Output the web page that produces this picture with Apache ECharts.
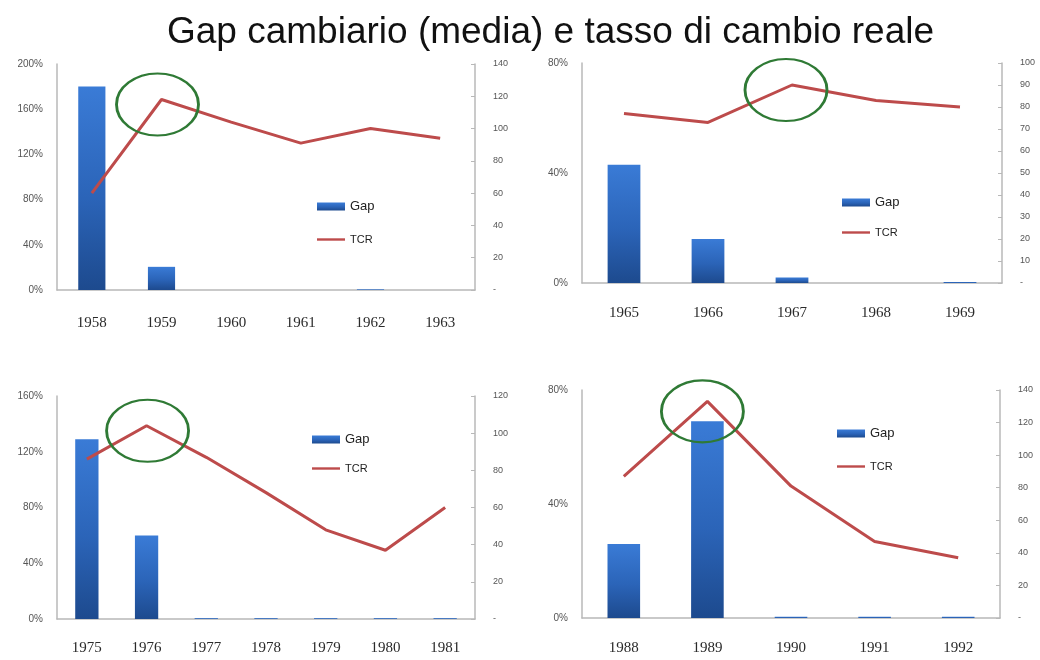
<!DOCTYPE html>
<html>
<head>
<meta charset="utf-8">
<script src="https://cdn.jsdelivr.net/npm/echarts@6/dist/echarts.min.js"></script>
<style>
  html, body { margin: 0; padding: 0; background: #fff; }
  #chart { width: 1040px; height: 660px; }
</style>
</head>
<body>
<div id="chart"></div>
<script>
// Four episodes: exchange-rate gap (bars, %) and real exchange rate index (line)
const years1 = ['1958', '1959', '1960', '1961', '1962', '1963'];
const gap1 = [180, 20.5, 0, 0, 0.6, 0];
const tcr1 = [60, 118, 104, 91, 100, 94];

const years2 = ['1965', '1966', '1967', '1968', '1969'];
const gap2 = [43, 16, 2, 0, 0.4];
const tcr2 = [77, 73, 90, 83, 80];

const years3 = ['1975', '1976', '1977', '1978', '1979', '1980', '1981'];
const gap3 = [129, 60, 0.6, 0.6, 0.6, 0.6, 0.6];
const tcr3 = [86, 104, 87, 68, 48, 37, 60];

const years4 = ['1988', '1989', '1990', '1991', '1992'];
const gap4 = [26, 69, 0.4, 0.4, 0.4];
const tcr4 = [87, 133, 81, 47, 37];

// Highlighted peak year in each episode
const peakYears = ['1959', '1967', '1976', '1989'];

const titleText = 'Gap cambiario (media) e tasso di cambio reale';

const panels = [
  { years: years1, gap: gap1, tcr: tcr1, peak: peakYears[0],
    grid: { left: 57, top: 64, width: 418, height: 226 },
    gapMax: 200, gapStep: 40, tcrMax: 140, tcrStep: 20, xMargin: 26,
    legend: { left: 317, top: 200, itemGap: 21 }, ring: [-4, 5] },
  { years: years2, gap: gap2, tcr: tcr2, peak: peakYears[1],
    grid: { left: 582, top: 63, width: 420, height: 220 },
    gapMax: 80, gapStep: 40, tcrMax: 100, tcrStep: 10, xMargin: 23,
    legend: { left: 842, top: 196, itemGap: 18 }, ring: [-6, 5] },
  { years: years3, gap: gap3, tcr: tcr3, peak: peakYears[2],
    grid: { left: 57, top: 396, width: 418, height: 223 },
    gapMax: 160, gapStep: 40, tcrMax: 120, tcrStep: 20, xMargin: 22,
    legend: { left: 312, top: 433, itemGap: 17 }, ring: [1, 5] },
  { years: years4, gap: gap4, tcr: tcr4, peak: peakYears[3],
    grid: { left: 582, top: 390, width: 418, height: 228 },
    gapMax: 80, gapStep: 40, tcrMax: 140, tcrStep: 20, xMargin: 23,
    legend: { left: 837, top: 427, itemGap: 21 }, ring: [-5, 10] }
];

const axisGrey = '#b8b8b8';
const labelGrey = '#555';
const barFill = new echarts.graphic.LinearGradient(0, 0, 0, 1, [
  { offset: 0, color: '#3a7bd6' },
  { offset: 0.55, color: '#2b64b8' },
  { offset: 1, color: '#1d4a8e' }
]);
// thin horizontal stroke inside a 28x8 box, used as the line's legend key
const lineKey = 'path://M0,0 M0,2.8 L28,2.8 L28,5.2 L0,5.2 Z M28,8';

const option = {
  animation: false,
  backgroundColor: '#fff',
  title: {
    text: titleText,
    left: 162, top: 9,
    textStyle: { fontFamily: 'Liberation Sans', fontSize: 37, fontWeight: 'normal', color: '#111' }
  },
  grid: [], xAxis: [], yAxis: [], series: [], legend: []
};

panels.forEach((p, i) => {
  option.grid.push(Object.assign({ containLabel: false }, p.grid));
  option.xAxis.push({
    type: 'category', gridIndex: i, data: p.years,
    axisLine: { lineStyle: { color: axisGrey, width: 1.5 } },
    axisTick: { show: false },
    axisLabel: { margin: p.xMargin, fontFamily: 'Liberation Serif', fontSize: 15, color: '#2a2a2a' }
  });
  // left axis: gap in percent
  option.yAxis.push({
    type: 'value', gridIndex: i, min: 0, max: p.gapMax, interval: p.gapStep,
    axisLine: { show: true, lineStyle: { color: axisGrey, width: 1.5 } },
    axisTick: { show: false },
    splitLine: { show: false },
    axisLabel: { margin: 14, fontFamily: 'Liberation Sans', fontSize: 10, color: labelGrey,
      formatter: v => v + '%' }
  });
  // right axis: real exchange rate index
  option.yAxis.push({
    type: 'value', gridIndex: i, position: 'right', min: 0, max: p.tcrMax, interval: p.tcrStep,
    axisLine: { show: true, lineStyle: { color: axisGrey, width: 1.5 } },
    axisTick: { show: true, inside: true, length: 4, lineStyle: { color: axisGrey } },
    splitLine: { show: false },
    axisLabel: { margin: 18, fontFamily: 'Liberation Sans', fontSize: 9, color: labelGrey,
      formatter: v => (v === 0 ? '-' : String(v)) }
  });
  option.series.push({
    name: 'Gap', type: 'bar', xAxisIndex: i, yAxisIndex: 2 * i,
    data: p.gap, barWidth: '39%',
    itemStyle: { color: barFill }
  });
  const peakIdx = p.years.indexOf(p.peak);
  option.series.push({
    name: 'TCR', type: 'line', xAxisIndex: i, yAxisIndex: 2 * i + 1,
    data: p.tcr, symbol: 'none',
    lineStyle: { color: '#bd4b4b', width: 3 },
    itemStyle: { color: '#bd4b4b' },
    markPoint: {
      silent: true,
      symbol: 'circle',
      symbolSize: [82, 62],
      symbolOffset: p.ring,
      label: { show: false },
      itemStyle: { color: 'rgba(0,0,0,0)', borderColor: '#2f7a35', borderWidth: 2.5 },
      data: [{ coord: [peakIdx, p.tcr[peakIdx]] }]
    }
  });
  option.legend.push({
    orient: 'vertical', padding: 0,
    left: p.legend.left, top: p.legend.top, itemGap: p.legend.itemGap,
    itemWidth: 28, itemHeight: 8, itemStyle: { borderWidth: 0 },
    textStyle: { fontFamily: 'Liberation Sans', fontSize: 13, color: '#222' },
    data: [
      { name: 'Gap', icon: 'rect' },
      { name: 'TCR', icon: lineKey, textStyle: { fontSize: 11 } }
    ],
    selectedMode: false
  });
});

const chart = echarts.init(document.getElementById('chart'), null, { renderer: 'canvas' });
chart.setOption(option);
</script>
</body>
</html>
